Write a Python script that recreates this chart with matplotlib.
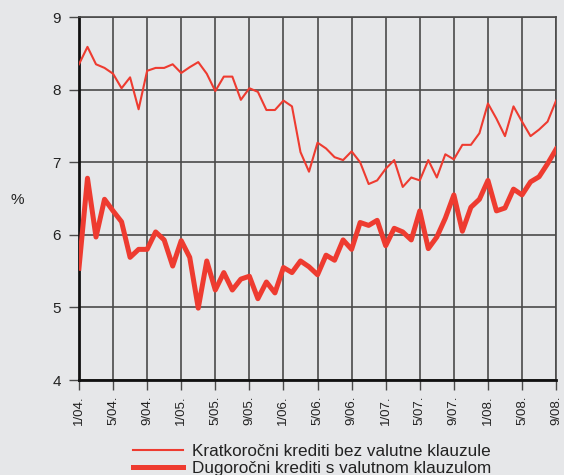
import matplotlib

matplotlib.use("Agg")

import matplotlib.pyplot as plt
import numpy as np


# Monthly data, 1/04. .. 9/08. (57 months)
kratkorocni = [
    8.35, 8.59, 8.35, 8.30, 8.22, 8.02, 8.17, 7.73, 8.26, 8.30,
    8.30, 8.35, 8.23, 8.31, 8.38, 8.22, 7.98, 8.18, 8.18, 7.86,
    8.02, 7.97, 7.72, 7.72, 7.85, 7.77, 7.14, 6.87, 7.27, 7.19,
    7.07, 7.03, 7.15, 7.00, 6.70, 6.75, 6.91, 7.03, 6.66, 6.79,
    6.75, 7.03, 6.79, 7.11, 7.04, 7.24, 7.24, 7.40, 7.81, 7.60,
    7.36, 7.77, 7.56, 7.36, 7.45, 7.56, 7.85,
]

dugorocni = [
    5.54, 6.78, 5.97, 6.49, 6.33, 6.18, 5.69, 5.80, 5.80, 6.04,
    5.93, 5.57, 5.92, 5.69, 4.99, 5.64, 5.24, 5.48, 5.24, 5.39,
    5.43, 5.12, 5.35, 5.20, 5.55, 5.48, 5.64, 5.56, 5.45, 5.72,
    5.65, 5.93, 5.80, 6.17, 6.13, 6.20, 5.85, 6.09, 6.04, 5.93,
    6.33, 5.81, 5.97, 6.23, 6.55, 6.05, 6.38, 6.49, 6.75, 6.33,
    6.37, 6.63, 6.55, 6.73, 6.80, 6.98, 7.18,
]

tick_labels = [
    "1/04.", "5/04.", "9/04.", "1/05.", "5/05.", "9/05.", "1/06.", "5/06.",
    "9/06.", "1/07.", "5/07.", "9/07.", "1/08.", "5/08.", "9/08.",
]

series_labels = [
    "Kratkoročni krediti bez valutne klauzule",
    "Dugoročni krediti s valutnom klauzulom",
]

BG = "#e6e7e9"
RED = "#ee3b30"
GRID = "#4a4a4a"

plt.rcParams["font.family"] = ["Liberation Sans", "DejaVu Sans"]

fig = plt.figure(figsize=(5.64, 4.75), dpi=100, facecolor=BG)
ax = fig.add_axes([0.140, 0.200, 0.846, 0.764], facecolor=BG)

x = np.arange(len(kratkorocni))
ax.plot(x, kratkorocni, color=RED, lw=1.5, label=series_labels[0], zorder=3)
ax.plot(x, dugorocni, color=RED, lw=3.6, label=series_labels[1], zorder=3)

ax.set_xlim(0, len(kratkorocni) - 1)
ax.set_ylim(4, 9)
ax.set_xticks(np.arange(0, len(kratkorocni), 4))
ax.set_xticklabels(tick_labels, rotation=90, fontsize=9.5, color="#222222")
ax.set_yticks(range(4, 10))
ax.tick_params(axis="y", labelsize=11, length=7, width=1.0, color=GRID,
               pad=6, labelcolor="#222222")
ax.tick_params(axis="x", length=7, width=1.0, color=GRID, pad=4)

ax.grid(True, color=GRID, lw=1.2, zorder=1)
ax.set_axisbelow(True)

for side in ["top", "right"]:
    ax.spines[side].set_color(GRID)
    ax.spines[side].set_linewidth(1.2)
for side in ["left", "bottom"]:
    ax.spines[side].set_color("#111111")
    ax.spines[side].set_linewidth(2.0)

fig.text(17 / 564, 1 - 200 / 475, "%", fontsize=11, ha="center",
         va="center", color="#222222")

fig.legend(
    loc="upper left",
    bbox_to_anchor=(133 / 564, 1 - 444 / 475),
    frameon=False,
    fontsize=12.3,
    handlelength=2.9,
    handletextpad=0.55,
    labelspacing=0.1,
    borderaxespad=0,
    borderpad=0,
    labelcolor="#222222",
)

fig.savefig("out.png", dpi=100, facecolor=BG)
plt.close(fig)
